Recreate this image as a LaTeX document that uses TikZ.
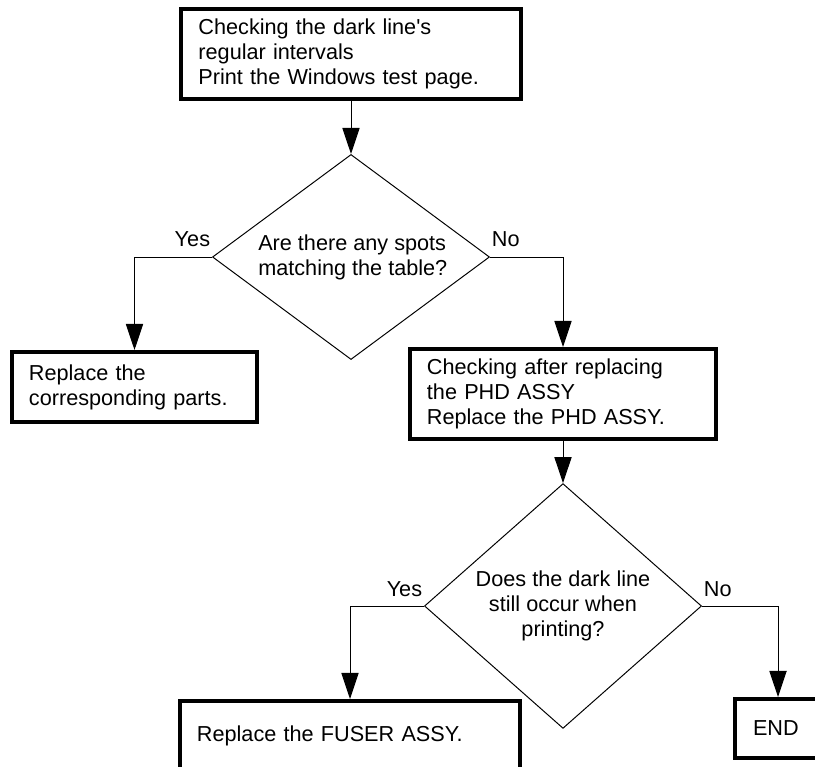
\documentclass[tikz,border=0pt]{standalone}
\usepackage{fontspec}
\setmainfont{Liberation Sans}
\usetikzlibrary{arrows.meta,shapes.geometric}

\begin{document}
\begin{tikzpicture}[x=0.025cm, y=-0.025cm,
    font=\fontsize{15.4pt}{17.8pt}\selectfont,
    box/.style={draw, line width=0.1cm, inner xsep=0.425cm, align=left},
    decision/.style={draw, diamond, line width=0.7pt, minimum width=6.925cm,
                     minimum height=5.125cm, inner sep=0pt},
    arr/.style={-{Triangle[length=0.65cm, width=0.43cm]}, line width=0.7pt},
    lbl/.style={inner sep=1pt, yshift=0.25cm}]
  \useasboundingbox (0,0) rectangle (815,767);
  \clip (0,0) rectangle (815,767);

  \node[box, text width=7.625cm, minimum height=2.25cm] (start) at (351,54)
    {Checking the dark line\textquotesingle s\\regular intervals\\Print the Windows test page.};
  \node[decision] (d1) at (351,257) {};
  \node[align=left, anchor=west, inner sep=0pt] (q1) at (258,257)
    {Are there any spots\\matching the table?};
  \node[box, text width=5.275cm, minimum height=1.75cm] (replA) at (134.5,387)
    {Replace the\\corresponding parts.};
  \node[box, text width=6.8cm, minimum height=2.25cm] (check2) at (563,394)
    {Checking after replacing\\the PHD ASSY\\Replace the PHD ASSY.};

  % second question
  \node[decision, align=center] (d2) at (563,606)
    {Does the dark line\\still occur when\\printing?};
  \node[box, text width=7.65cm, inner ysep=0pt, text height=1cm, text depth=1.5cm,
        anchor=north] (fuser) at (350,699) {Replace the FUSER ASSY.};
  \node[box, inner xsep=0.45cm, text width=1.6cm, minimum height=1.475cm,
        anchor=west] (end) at (733,728.5) {END};

  \draw[arr] (start.south) -- (d1.north);
  \draw[arr] (d1.west) node[lbl, anchor=base east] (yes1) {Yes} -| (replA.north);
  \draw[arr] (d1.east) node[lbl, anchor=base west] (no1) {No} -| (check2.north);
  \draw[arr] (check2.south) -- (d2.north);
  \draw[arr] (d2.west) node[lbl, anchor=base east] (yes2) {Yes} -| (fuser.north);
  \draw[arr] (d2.east) node[lbl, anchor=base west] (no2) {No} -| ([xshift=1.125cm]end.north west);
\end{tikzpicture}
\end{document}
